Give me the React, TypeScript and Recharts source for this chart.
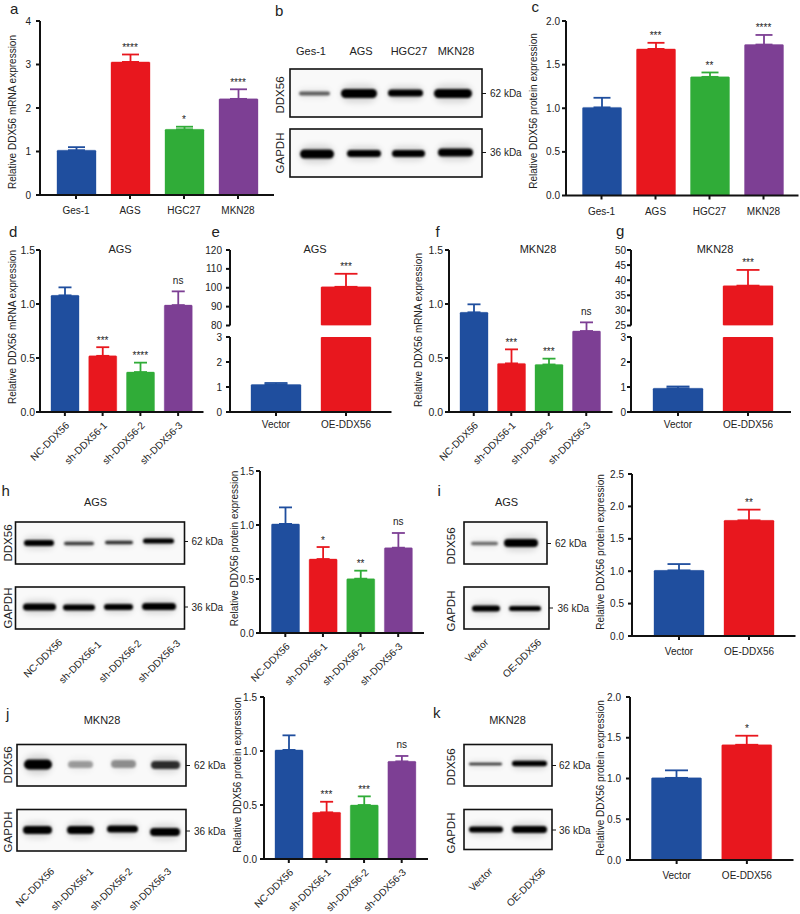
import { Bar, ComposedChart, ErrorBar, LabelList, Line, XAxis, YAxis } from "recharts";

const font = "'Liberation Sans', Arial, sans-serif";
const ink = "#222";
const colors = ["#1f4e9e", "#e8171e", "#30ac38", "#7d3f94"];

const cellLines = ["Ges-1", "AGS", "HGC27", "MKN28"];
const shLabels = ["NC-DDX56", "sh-DDX56-1", "sh-DDX56-2", "sh-DDX56-3"];
const oeLabels = ["Vector", "OE-DDX56"];

const aMeans = [1.03, 3.06, 1.51, 2.21];
const aErrors = [0.07, 0.17, 0.06, 0.22];
const aStars = ["", "****", "*", "****"];

const cMeans = [1.01, 1.68, 1.36, 1.73];
const cErrors = [0.11, 0.07, 0.05, 0.11];
const cStars = ["", "***", "**", "****"];

const dMeans = [1.08, 0.52, 0.37, 0.99];
const dErrors = [0.074, 0.08, 0.087, 0.127];
const dStars = ["", "***", "****", "ns"];

const eUpperMeans = [null, 100.5];
const eUpperErrors = [null, 6.9];
const eUpperStars = ["", "***"];
const eLowerMeans = [1.1, 100.5];
const eLowerErrors = [0.06, null];

const fMeans = [0.923, 0.45, 0.44, 0.75];
const fErrors = [0.074, 0.13, 0.054, 0.08];
const fStars = ["", "***", "***", "ns"];

const gUpperMeans = [null, 38.2];
const gUpperErrors = [null, 5.2];
const gUpperStars = ["", "***"];
const gLowerMeans = [0.95, 38.2];
const gLowerErrors = [0.07, null];

const hMeans = [1.01, 0.685, 0.503, 0.79];
const hErrors = [0.153, 0.111, 0.074, 0.136];
const hStars = ["", "*", "**", "ns"];

const iMeans = [1.013, 1.785];
const iErrors = [0.097, 0.165];
const iStars = ["", "**"];

const jMeans = [1.01, 0.432, 0.5, 0.904];
const jErrors = [0.135, 0.098, 0.08, 0.05];
const jStars = ["", "***", "***", "ns"];

const kMeans = [1.008, 1.414];
const kErrors = [0.092, 0.111];
const kStars = ["", "*"];

const unitTicks = [0, 0.5, 1, 1.5];

function StarLabel(props: any) {
  const box = props.viewBox ?? props;
  const value = props.value;
  if (!value) return null;
  const isNs = value === "ns";
  return (
    <text x={box.x} y={box.y - (isNs ? 7.5 : 3.5)} textAnchor="middle" fontSize={10} fontFamily={font} fill={ink}>
      {value}
    </text>
  );
}

function BarPanel({
  x,
  top,
  bottom,
  right,
  padL,
  padR,
  labels,
  means,
  errors,
  stars,
  domain,
  ticks,
  barSize,
  capWidth,
  rotated = false,
  hideX = false,
  labelGap = 8,
  tickFont = 10,
  tickGap = 2,
  overflow = false
}: any) {
  const rows = labels.map((name: string, i: number) => ({
    name,
    [`s${i}`]: means[i],
    [`e${i}`]: errors[i] == null ? undefined : [0, errors[i]],
    peak: means[i] == null || errors[i] == null ? null : means[i] + errors[i],
    star: stars ? stars[i] : ""
  }));
  const xHeight = hideX ? 8 : rotated ? 62 : 28;
  const marginTop = 8;
  return (
    <div style={{ position: "absolute", left: x - 40, top: top - marginTop }}>
      <ComposedChart
        width={right - x + 42}
        height={bottom - top + marginTop + xHeight}
        data={rows}
        margin={{ top: marginTop, right: 2, bottom: hideX ? 8 : 0, left: 0 }}
      >
        <XAxis
          dataKey="name"
          hide={hideX}
          height={xHeight}
          padding={{ left: padL, right: padR }}
          interval={0}
          axisLine={{ stroke: "#111", strokeWidth: 2 }}
          tickLine={{ stroke: "#111", strokeWidth: 2 }}
          tickSize={4}
          tickMargin={rotated ? 5 : labelGap}
          tick={{ fontSize: 10, fill: ink, fontFamily: font }}
          angle={rotated ? -45 : 0}
          textAnchor={rotated ? "end" : "middle"}
        />
        <YAxis
          width={40}
          type="number"
          domain={domain}
          ticks={ticks}
          interval={0}
          allowDataOverflow={overflow}
          axisLine={{ stroke: "#111", strokeWidth: 2 }}
          tickLine={{ stroke: "#111", strokeWidth: 2 }}
          tickSize={4}
          tickMargin={tickGap}
          tick={{ fontSize: tickFont, fill: ink, fontFamily: font }}
          tickFormatter={(value: number) => (ticks.some((t: number) => t % 1 !== 0) ? value.toFixed(1) : String(value))}
        />
        {labels.map((_: string, i: number) => (
          <Bar
            key={i}
            dataKey={`s${i}`}
            stackId="group"
            barSize={barSize}
            fill={colors[i]}
            stroke={colors[i]}
            strokeOpacity={0.35}
            radius={1}
            isAnimationActive={false}
          >
            <ErrorBar dataKey={`e${i}`} direction="y" width={capWidth} stroke={colors[i]} strokeWidth={1.8} isAnimationActive={false} />
          </Bar>
        ))}
        {stars ? (
          <Line dataKey="peak" stroke="none" dot={false} activeDot={false} legendType="none" isAnimationActive={false}>
            <LabelList dataKey="star" content={StarLabel} />
          </Line>
        ) : null}
      </ComposedChart>
    </div>
  );
}

const panelLetters: [string, number, number][] = [
  ["a", 10, 13.5],
  ["b", 275, 16],
  ["c", 531.5, 11.5],
  ["d", 9, 237],
  ["e", 211.5, 237],
  ["f", 435.5, 236.5],
  ["g", 616, 236],
  ["h", 1.5, 496],
  ["i", 437.5, 496],
  ["j", 6, 719],
  ["k", 433, 718]
];

const titles: [string, number, number][] = [
  ["AGS", 120, 249],
  ["AGS", 315, 249],
  ["MKN28", 538, 249],
  ["MKN28", 715, 249],
  ["AGS", 95.5, 502],
  ["AGS", 506.5, 502],
  ["MKN28", 102, 720],
  ["MKN28", 507.5, 720],
  ["Ges-1", 311, 51],
  ["AGS", 361, 51],
  ["HGC27", 409, 51],
  ["MKN28", 456, 51]
];

const yLabels: [string, number, number][] = [
  ["Relative DDX56 mRNA expression", 12, 112],
  ["Relative DDX56 protein expression", 533, 111],
  ["Relative DDX56 mRNA expression", 12, 327],
  ["Relative DDX56 mRNA expression", 418, 330],
  ["Relative DDX56 protein expression", 234, 548.5],
  ["Relative DDX56 protein expression", 600, 552],
  ["Relative DDX56 protein expression", 237, 775],
  ["Relative DDX56 protein expression", 600, 778]
];

const blotNames: [string, number, number][] = [
  ["DDX56", 280, 95],
  ["GAPDH", 280, 153],
  ["DDX56", 7.5, 543],
  ["GAPDH", 7.5, 608],
  ["DDX56", 451, 546],
  ["GAPDH", 451, 611],
  ["DDX56", 8, 765],
  ["GAPDH", 8, 832],
  ["DDX56", 451, 767],
  ["GAPDH", 451, 833]
];

const sizeMarks: [string, number, number, number][] = [
  ["62 kDa", 490, 93.5, 482],
  ["36 kDa", 490, 152.5, 482],
  ["62 kDa", 191.5, 541.5, 184],
  ["36 kDa", 191.5, 607, 184],
  ["62 kDa", 555, 543.5, 547],
  ["36 kDa", 557.5, 608, 549],
  ["62 kDa", 194, 765.5, 186],
  ["36 kDa", 194, 831, 186],
  ["62 kDa", 559, 765.5, 552],
  ["36 kDa", 559, 830, 552]
];

const slantedLabels: [string, number, number][] = [
  [shLabels[0], 63, 643],
  [shLabels[1], 102, 645],
  [shLabels[2], 142, 644],
  [shLabels[3], 181, 644],
  [oeLabels[0], 489, 643],
  [oeLabels[1], 542, 643],
  [shLabels[0], 55, 872],
  [shLabels[1], 94, 872],
  [shLabels[2], 133, 872],
  [shLabels[3], 172, 872],
  [oeLabels[0], 493, 872],
  [oeLabels[1], 546, 872]
];

// western blot frames: x, y, w, h
const blotFrames: [number, number, number, number][] = [
  [290, 69, 192, 48],
  [290, 129, 192, 48],
  [15.5, 522, 169, 42],
  [15.5, 587, 169, 42],
  [464, 522, 83, 42],
  [464, 587, 85, 42],
  [17, 744.5, 169, 41.5],
  [17, 809.5, 169, 41.5],
  [464, 744.5, 88, 41.5],
  [464, 809.5, 88, 40]
];

// western blot bands: x1, x2, centre y, thickness, darkness
const blotBands: [number, number, number, number, number][] = [
  [299, 330, 93.5, 4, 0.6],
  [341, 377, 93.5, 9, 1],
  [388, 423, 93, 7, 1],
  [434, 472, 93.5, 9, 1],
  [300, 334, 154, 9, 1],
  [347, 381, 153.5, 7, 1],
  [392, 425, 153.5, 7, 1],
  [438, 473, 152.5, 8, 1],
  [24, 54, 543, 6, 1],
  [64, 94, 543.5, 3.5, 0.75],
  [105, 133, 542.5, 3.5, 0.8],
  [143, 174, 541, 5, 1],
  [23, 56, 607, 7, 1],
  [63, 95, 607.5, 6, 1],
  [104, 133, 607, 6, 1],
  [142, 176, 606.5, 7, 1],
  [471, 498, 543.5, 3.5, 0.55],
  [504, 538, 543, 8, 1],
  [472, 500, 608.5, 6, 1],
  [509, 541, 608.5, 5, 1],
  [24, 52, 764.5, 10, 1],
  [68, 93, 764.5, 7, 0.35],
  [111, 136, 764, 8, 0.4],
  [151, 180, 765, 8, 0.8],
  [23, 52, 830, 8, 1],
  [67, 94, 830, 8, 1],
  [107, 138, 829, 7, 1],
  [150, 180, 832, 8, 1],
  [469, 502, 764, 2.5, 0.8],
  [512, 547, 763.5, 5.5, 1],
  [469, 503, 829.5, 6, 1],
  [512, 547, 829.5, 7, 1]
];

function Annotations() {
  const common = { fontFamily: font, fill: ink };
  return (
    <svg width={800} height={914} style={{ position: "absolute", left: 0, top: 0, pointerEvents: "none" }}>
      <defs>
        <filter id="soft" x="-20%" y="-80%" width="140%" height="260%">
          <feGaussianBlur stdDeviation="1.1" />
        </filter>
        <filter id="halo" x="-30%" y="-150%" width="160%" height="400%">
          <feGaussianBlur stdDeviation="3" />
        </filter>
      </defs>
      {blotFrames.map(([x, y, w, h], i) => (
        <rect key={i} x={x} y={y} width={w} height={h} fill="#f9f9f9" stroke="#111" strokeWidth={1.6} />
      ))}
      {blotBands.map(([x1, x2, y, h, dark], i) => (
        <g key={i}>
          <rect x={x1} y={y - h} width={x2 - x1} height={h * 2} rx={h} fill="#000" opacity={dark * 0.14} filter="url(#halo)" />
          <rect x={x1} y={y - h / 2} width={x2 - x1} height={h} rx={h / 2} fill="#000" opacity={dark} filter="url(#soft)" />
        </g>
      ))}
      {sizeMarks.map(([text, x, y, tick], i) => (
        <g key={i}>
          <line x1={tick} x2={tick + 4} y1={y} y2={y} stroke="#111" strokeWidth={1} />
          <text x={x} y={y} fontSize={10} dominantBaseline="central" {...common}>
            {text}
          </text>
        </g>
      ))}
      {blotNames.map(([text, x, y], i) => (
        <text key={i} x={x} y={y} fontSize={11.5} textAnchor="middle" dominantBaseline="central" transform={`rotate(-90 ${x} ${y})`} {...common}>
          {text}
        </text>
      ))}
      {yLabels.map(([text, x, y], i) => (
        <text key={i} x={x} y={y} fontSize={10} textAnchor="middle" dominantBaseline="central" transform={`rotate(-90 ${x} ${y})`} {...common}>
          {text}
        </text>
      ))}
      {titles.map(([text, x, y], i) => (
        <text key={i} x={x} y={y} fontSize={11} textAnchor="middle" dominantBaseline="central" {...common}>
          {text}
        </text>
      ))}
      {slantedLabels.map(([text, x, y], i) => (
        <text key={i} x={x} y={y} fontSize={10} textAnchor="end" transform={`rotate(-45 ${x} ${y})`} {...common}>
          {text}
        </text>
      ))}
      {panelLetters.map(([text, x, y], i) => (
        <text key={i} x={x} y={y} fontSize={15} {...common}>
          {text}
        </text>
      ))}
    </svg>
  );
}

export default function App() {
  return (
    <div style={{ position: "absolute", left: 0, top: 0, width: 800, height: 914, background: "#fff", overflow: "hidden" }}>
      <BarPanel x={40} top={20.5} bottom={194.5} right={274} padL={9} padR={9} labels={cellLines} means={aMeans} errors={aErrors} stars={aStars} domain={[0, 4]} ticks={[0, 1, 2, 3, 4]} barSize={39} capWidth={8.5} tickGap={5} />
      <BarPanel x={565.5} top={20.5} bottom={195} right={798} padL={8.5} padR={8} labels={cellLines} means={cMeans} errors={cErrors} stars={cStars} domain={[0, 2]} ticks={[0, 0.5, 1, 1.5, 2]} barSize={39} capWidth={8.5} />
      <BarPanel x={39.5} top={249.5} bottom={411.5} right={203} padL={6} padR={6.5} labels={shLabels} means={dMeans} errors={dErrors} stars={dStars} domain={[0, 1.5]} ticks={unitTicks} barSize={28} capWidth={6.5} rotated tickFont={10.5} tickGap={1} />

      <BarPanel x={230} top={249.5} bottom={325} right={391.5} padL={11} padR={10.5} labels={oeLabels} means={eUpperMeans} errors={eUpperErrors} stars={eUpperStars} domain={[80, 120]} ticks={[80, 90, 100, 110, 120]} barSize={50} capWidth={11.5} hideX overflow tickGap={4} />
      <BarPanel x={230} top={336.5} bottom={411.5} right={391.5} padL={11} padR={10.5} labels={oeLabels} means={eLowerMeans} errors={eLowerErrors} domain={[0, 3]} ticks={[0, 1, 2, 3]} barSize={50} capWidth={11.5} labelGap={5} overflow tickGap={4} />

      <BarPanel x={449} top={249.5} bottom={411.5} right={612.5} padL={6} padR={7.5} labels={shLabels} means={fMeans} errors={fErrors} stars={fStars} domain={[0, 1.5]} ticks={unitTicks} barSize={28} capWidth={6.5} rotated tickFont={10.5} />

      <BarPanel x={630.5} top={249.5} bottom={325} right={790.5} padL={12} padR={8} labels={oeLabels} means={gUpperMeans} errors={gUpperErrors} stars={gUpperStars} domain={[25, 50]} ticks={[25, 30, 35, 40, 45, 50]} barSize={50} capWidth={11.5} hideX overflow tickGap={1} />
      <BarPanel x={630.5} top={336.5} bottom={411.5} right={790.5} padL={12} padR={8} labels={oeLabels} means={gLowerMeans} errors={gLowerErrors} domain={[0, 3]} ticks={[0, 1, 2, 3]} barSize={50} capWidth={11.5} labelGap={5} overflow tickGap={1} />

      <BarPanel x={259.5} top={470.5} bottom={632.5} right={423.5} padL={6.5} padR={7} labels={shLabels} means={hMeans} errors={hErrors} stars={hStars} domain={[0, 1.5]} ticks={unitTicks} barSize={28} capWidth={6.5} rotated />
      <BarPanel x={631.5} top={473.5} bottom={635.5} right={795} padL={12} padR={11.5} labels={oeLabels} means={iMeans} errors={iErrors} stars={iStars} domain={[0, 2.5]} ticks={[0, 0.5, 1, 1.5, 2, 2.5]} barSize={50} capWidth={11.5} tickGap={4} />
      <BarPanel x={263.5} top={696.5} bottom={858.5} right={427.5} padL={6} padR={7.5} labels={shLabels} means={jMeans} errors={jErrors} stars={jStars} domain={[0, 1.5]} ticks={unitTicks} barSize={28} capWidth={6.5} rotated tickGap={3} />
      <BarPanel x={630} top={696.5} bottom={859.5} right={793.5} padL={11.5} padR={11.5} labels={oeLabels} means={kMeans} errors={kErrors} stars={kStars} domain={[0, 2]} ticks={[0, 0.5, 1, 1.5, 2]} barSize={50} capWidth={11.5} tickGap={5} />

      <Annotations />
    </div>
  );
}
